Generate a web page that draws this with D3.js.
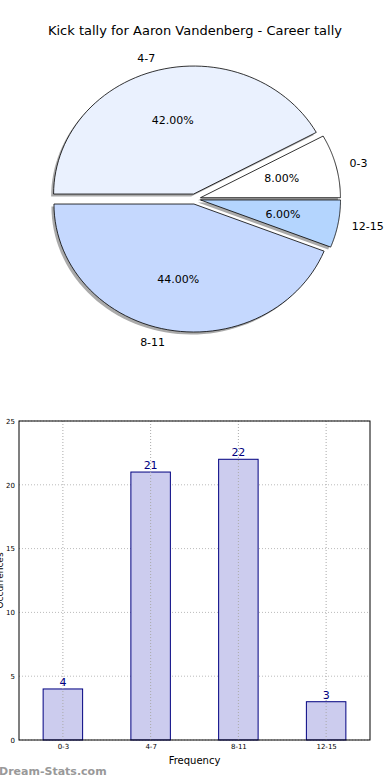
<!DOCTYPE html>
<html>
<head>
<meta charset="utf-8">
<script src="https://cdn.jsdelivr.net/npm/d3@7"></script>
<style>
  body { margin: 0; background: #fff; }
  svg { display: block; font-family: "DejaVu Sans", sans-serif; }
</style>
</head>
<body>
<svg id="chart" width="390" height="780"></svg>
<script>
// data
var categories = ['0-3', '4-7', '8-11', '12-15'];
var kicks = [4, 21, 22, 3];
var pieColors = ['#ffffff', '#eaf1fe', '#c5d8fe', '#b4d5fe'];
var yTicks = [0, 5, 10, 15, 20, 25];

var svg = d3.select('#chart');

svg.append('text')
  .attr('x', 195).attr('y', 35)
  .attr('text-anchor', 'middle')
  .attr('font-size', 13)
  .text('Kick tally for Aaron Vandenberg - Career tally');

//
// Pie (elliptical, counter-clockwise from 3 o'clock, every slice exploded)
//
var cx = 195, cy = 199, rx = 140, ry = 128, explode = 0.04;
var total = d3.sum(kicks);
var angle = d3.scaleLinear().domain([0, total]).range([0, 2 * Math.PI]);

var slices = [];
var acc = 0;
kicks.forEach(function(v, i) {
  slices.push({ i: i, a0: angle(acc), a1: angle(acc + v), v: v });
  acc += v;
});

function wedgePath(s, ox, oy) {
  var steps = 60, pts = [[ox, oy]];
  for (var k = 0; k <= steps; k++) {
    var a = s.a0 + (s.a1 - s.a0) * k / steps;
    pts.push([ox + rx * Math.cos(a), oy - ry * Math.sin(a)]);
  }
  return d3.line()(pts) + 'Z';
}

var pieG = svg.append('g');
slices.forEach(function(s) {
  var mid = (s.a0 + s.a1) / 2;
  s.ox = cx + explode * rx * Math.cos(mid);
  s.oy = cy - explode * ry * Math.sin(mid);
  s.mid = mid;
});

// shadows first
slices.forEach(function(s) {
  pieG.append('path')
    .attr('d', wedgePath(s, s.ox - 2.5, s.oy + 2.5))
    .attr('fill', '#555').attr('fill-opacity', 0.5).attr('stroke', 'none');
});
slices.forEach(function(s) {
  pieG.append('path')
    .attr('d', wedgePath(s, s.ox, s.oy))
    .attr('fill', pieColors[s.i])
    .attr('stroke', '#000').attr('stroke-width', 0.8);
});

slices.forEach(function(s) {
  var c = Math.cos(s.mid), sn = Math.sin(s.mid);
  pieG.append('text')
    .attr('x', s.ox + 1.1 * rx * c)
    .attr('y', s.oy - 1.1 * ry * sn)
    .attr('dy', '0.35em')
    .attr('text-anchor', c < 0 ? 'end' : 'start')
    .attr('font-size', 11)
    .text(categories[s.i]);
  pieG.append('text')
    .attr('x', s.ox + 0.6 * rx * c)
    .attr('y', s.oy - 0.6 * ry * sn)
    .attr('dy', '0.35em')
    .attr('text-anchor', 'middle')
    .attr('font-size', 11)
    .text(d3.format('.2f')(s.v / total * 100) + '%');
});

//
// Bar chart
//
var pLeft = 19, pRight = 370, pTop = 421, pBottom = 740;
var x = d3.scaleLinear().domain([-0.5, 3.5]).range([pLeft, pRight]);
var y = d3.scaleLinear().domain([0, 25]).range([pBottom, pTop]);
var barW = 0.45;

var g = svg.append('g');

// grid
g.selectAll('.gy').data(yTicks).enter().append('line')
  .attr('x1', pLeft).attr('x2', pRight)
  .attr('y1', function(d) { return y(d); }).attr('y2', function(d) { return y(d); })
  .attr('stroke', '#bbb').attr('stroke-width', 1).attr('stroke-dasharray', '1,2');

g.selectAll('rect.bar').data(kicks).enter().append('rect')
  .attr('class', 'bar')
  .attr('x', function(d, i) { return x(i - barW / 2); })
  .attr('width', x(barW) - x(0))
  .attr('y', function(d) { return y(d); })
  .attr('height', function(d) { return pBottom - y(d); })
  .attr('fill', '#ccccee')
  .attr('stroke', '#000080').attr('stroke-width', 1);

// vertical grid drawn over the bars
g.selectAll('.gx').data(categories).enter().append('line')
  .attr('x1', function(d, i) { return x(i); }).attr('x2', function(d, i) { return x(i); })
  .attr('y1', pTop).attr('y2', pBottom)
  .attr('stroke', '#aaa').attr('stroke-width', 1).attr('stroke-dasharray', '1,2');

g.selectAll('text.val').data(kicks).enter().append('text')
  .attr('x', function(d, i) { return x(i); })
  .attr('y', function(d) { return y(d) - 3; })
  .attr('text-anchor', 'middle')
  .attr('font-size', 11)
  .attr('fill', '#000080')
  .text(function(d) { return d; });

// frame
g.append('rect')
  .attr('x', pLeft).attr('y', pTop)
  .attr('width', pRight - pLeft).attr('height', pBottom - pTop)
  .attr('fill', 'none').attr('stroke', '#000').attr('stroke-width', 1);

// axes
var yAxis = g.append('g').attr('transform', 'translate(' + pLeft + ',0)')
  .call(d3.axisLeft(y).tickValues(yTicks).tickSize(0).tickPadding(4));
yAxis.select('.domain').remove();
yAxis.selectAll('text').attr('font-size', 7).attr('font-family', '"DejaVu Sans", sans-serif');

var xAxis = g.append('g').attr('transform', 'translate(0,' + pBottom + ')')
  .call(d3.axisBottom(x).tickValues(d3.range(categories.length))
    .tickFormat(function(i) { return categories[i]; })
    .tickSize(0).tickPadding(4));
xAxis.select('.domain').remove();
xAxis.selectAll('text').attr('font-size', 7).attr('font-family', '"DejaVu Sans", sans-serif');

svg.append('text')
  .attr('x', (pLeft + pRight) / 2).attr('y', 764)
  .attr('text-anchor', 'middle')
  .attr('font-size', 10)
  .text('Frequency');

svg.append('text')
  .attr('transform', 'translate(3,' + ((pTop + pBottom) / 2) + ') rotate(-90)')
  .attr('text-anchor', 'middle')
  .attr('font-size', 9)
  .text('Occurrences');

svg.append('text')
  .attr('x', -1).attr('y', 775)
  .attr('font-size', 11).attr('font-weight', 'bold')
  .attr('fill', '#999')
  .text('Dream-Stats.com');
</script>
</body>
</html>
